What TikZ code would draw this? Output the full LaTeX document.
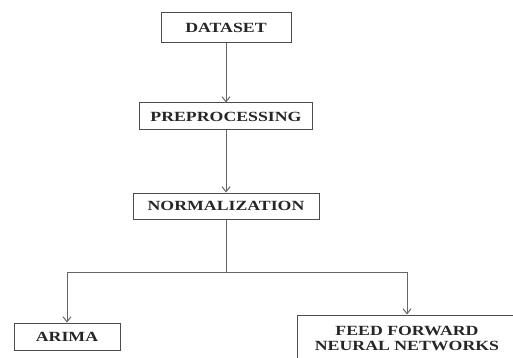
\documentclass[tikz,border=0pt]{standalone}
\usepackage{fontspec}
\setmainfont{Liberation Serif}
\usetikzlibrary{arrows.meta}
\newcommand\wide[1]{\scalebox{1.27}[1]{#1}}
\tikzset{
  box/.style={draw=black!70, line width=1pt, inner sep=0pt, fill=white,
    font=\fontsize{14}{15}\selectfont\bfseries, text=black!85, align=center},
  link/.style={draw=black!60, line width=1pt},
  arrow/.style={link, -{Straight Barb[length=5pt,width=8pt]}}
}
\begin{document}
\begin{tikzpicture}[x=1pt,y=-1pt]
\clip (0,0) rectangle (513,358);
\node[box, minimum width=130pt, minimum height=30pt] (dataset) at (226,28) {\wide{DATASET}};
\node[box, minimum width=173pt, minimum height=27pt] (prep) at (226,116.5) {\wide{PREPROCESSING}};
\node[box, minimum width=186pt, minimum height=26pt] (norm) at (226,206) {\wide{NORMALIZATION}};
\node[box, minimum width=106pt, minimum height=27pt] (arima) at (67,336.5) {\wide{ARIMA}};
\node[box, minimum width=220pt, minimum height=47pt] (ffnn) at (407,338.5) {\wide{FEED FORWARD}\\\wide{NEURAL NETWORKS}};
\coordinate (split) at (226,272);
\draw[arrow] (dataset) -- (prep);
\draw[arrow] (prep) -- (norm);
\draw[link] (norm) -- (split);
\draw[arrow] (split) -| (arima);
\draw[arrow] (split) -| (ffnn);
\end{tikzpicture}
\end{document}
